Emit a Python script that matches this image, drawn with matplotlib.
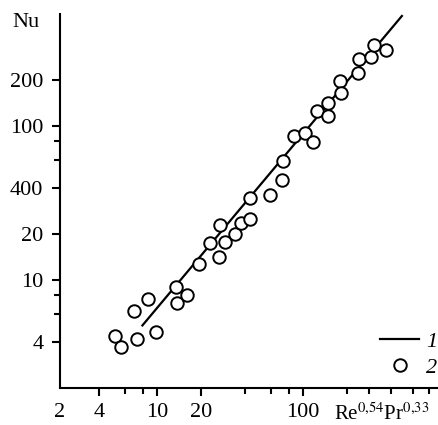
import numpy as np
import matplotlib
matplotlib.use("Agg")
import matplotlib.pyplot as plt
from matplotlib.ticker import FixedLocator, NullFormatter
from matplotlib.lines import Line2D

plt.rcParams['font.family'] = ['Liberation Serif', 'DejaVu Serif']
plt.rcParams['mathtext.fontset'] = 'stix'

# experimental points (2)
x_pts = [5.16, 5.64, 7.35, 6.99, 8.68, 9.84, 13.5, 13.6, 16.1, 19.5,
         23.1, 26.6, 26.8, 29.2, 34.2, 37.6, 43.4, 43.0, 59.0, 71.5,
         72.6, 86.8, 103, 116, 125, 148, 147, 179, 181, 236,
         241, 290, 303, 370]
y_pts = [4.33, 3.70, 4.14, 6.29, 7.56, 4.63, 9.05, 7.14, 8.05, 12.7,
         17.4, 14.2, 22.9, 17.8, 20.0, 23.4, 24.9, 34.4, 35.6, 45.1,
         59.1, 86.1, 91.0, 78.7, 126, 141, 116, 196, 165, 222,
         273, 281, 339, 312]

# correlation line (1)
x_line = [7.86, 479]
y_line = [5.03, 526]

x_major = [2.17, 4, 10, 20, 100]
x_major_labels = ['2', '4', '10', '20', '100']
x_minor = [6, 8, 40, 60, 80, 200, 280, 400, 560, 730]
y_major = [4, 10, 20, 40, 100, 200]
y_major_labels = ['4', '10', '20', '400', '100', '200']
y_minor = [6, 8, 60, 80]

fig = plt.figure(figsize=(4.39, 4.25), dpi=100)
ax = fig.add_axes([60 / 439, 37 / 425, 379 / 439, 374 / 425])

ax.plot(x_line, y_line, color='black', lw=1.6, solid_capstyle='butt')
ax.plot(x_pts, y_pts, 'o', mfc='white', mec='black', ms=9, mew=1.4, ls='none')

ax.set_xscale('log')
ax.set_yscale('log')
ax.set_xlim(2.17, 850)
ax.set_ylim(2.0, 535)

for s in ['top', 'right']:
    ax.spines[s].set_visible(False)
for s in ['left', 'bottom']:
    ax.spines[s].set_linewidth(1.5)

ax.xaxis.set_major_locator(FixedLocator(x_major))
ax.set_xticklabels(x_major_labels)
ax.xaxis.set_minor_locator(FixedLocator(x_minor))
ax.xaxis.set_minor_formatter(NullFormatter())
ax.yaxis.set_major_locator(FixedLocator(y_major))
ax.set_yticklabels(y_major_labels)
ax.yaxis.set_minor_locator(FixedLocator(y_minor))
ax.yaxis.set_minor_formatter(NullFormatter())

ax.tick_params(which='major', length=6, width=1.5, labelsize=16)
ax.tick_params(which='minor', length=4, width=1.5)
ax.tick_params(axis='y', which='major', pad=6)
ax.tick_params(axis='x', which='major', pad=5)
ax.xaxis.get_major_ticks()[0].tick1line.set_visible(False)

ax.text(-0.09, 0.978, 'Nu', transform=ax.transAxes, fontsize=16,
        ha='center', va='center')
ax.text(0.722, -0.0856, r'Re$^{0{,}54}$Pr$^{0{,}33}$', transform=ax.transAxes,
        fontsize=15, ha='left', va='baseline', clip_on=False)

handles = [Line2D([], [], color='black', lw=1.6),
           Line2D([], [], marker='o', ls='none', mfc='white', mec='black',
                  ms=9, mew=1.4)]
ax.legend(handles, ['1', '2'], loc='lower right', bbox_to_anchor=(0.995, 0.027),
          frameon=False, borderpad=0, borderaxespad=0, handlelength=1.75,
          handletextpad=0.3, labelspacing=0.25,
          prop={'family': 'Liberation Serif', 'style': 'italic', 'size': 16})

fig.savefig('out.png', dpi=100)
